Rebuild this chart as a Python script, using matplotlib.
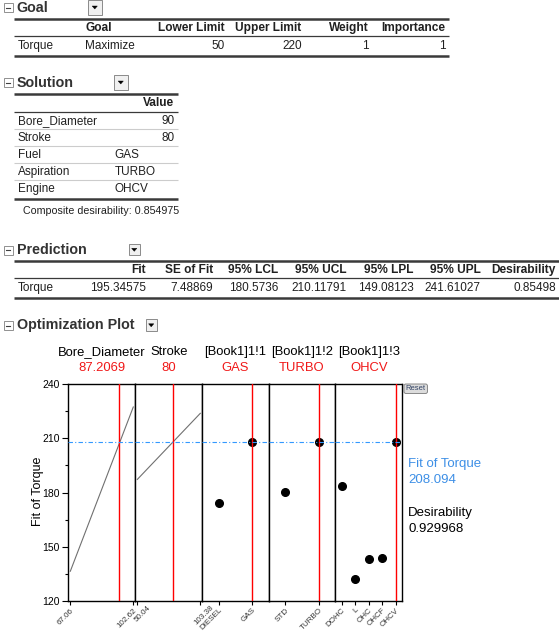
import matplotlib.pyplot as plt
import matplotlib.patches as mpatches
import matplotlib.transforms as mtransforms

plt.rcParams['font.family'] = ['Liberation Sans', 'DejaVu Sans']

W, H = 559, 633

# ---- report data ----
goal_cols = ["Goal", "Lower Limit", "Upper Limit", "Weight", "Importance"]
goal_row = ["Torque", "Maximize", "50", "220", "1", "1"]

sol_names = ["Bore_Diameter", "Stroke", "Fuel", "Aspiration", "Engine"]
sol_values = ["90", "80", "GAS", "TURBO", "OHCV"]
composite = "0.854975"

pred_cols = ["Fit", "SE of Fit", "95% LCL", "95% UCL", "95% LPL", "95% UPL", "Desirability"]
pred_row = ["195.34575", "7.48869", "180.5736", "210.11791", "149.08123", "241.61027", "0.85498"]

# ---- optimization plot data ----
factor_names = ["Bore_Diameter", "Stroke", "[Book1]1!1", "[Book1]1!2", "[Book1]1!3"]
factor_current = ["87.2069", "80", "GAS", "TURBO", "OHCV"]

bore_x = [67.06, 102.62]
bore_fit = [136.6, 227.3]
bore_marker = 94.7
stroke_x = [50.04, 103.38]
stroke_fit = [187.3, 223.8]
stroke_marker = 80

fuel_levels = ["DIESEL", "GAS"]
fuel_fit = [174.4, 208.1]
asp_levels = ["STD", "TURBO"]
asp_fit = [180.1, 208.1]
engine_levels = ["DOHC", "L", "OHC", "OHCF", "OHCV"]
engine_fit = [183.6, 132.2, 143.2, 144.0, 208.1]

fit_torque = 208.094
desirability = "0.929968"

TXT = '#202020'
LINE = '#3a3a3a'


def rect(left, top, width, height):
    return [left / W, 1 - (top + height) / H, width / W, height / H]


def section(ax, y, title, bx, bw, bh):
    ax.add_patch(mpatches.Rectangle((3.5, y - 4.5), 9, 9, fc='white', ec='#909090', lw=0.7))
    ax.plot([5.8, 10.2], [y, y], color='#404040', lw=0.8)
    ax.text(16.7, y, title, fontsize=10.3, fontweight='bold', color='#333333', va='center', ha='left')
    top = y - bh / 2 - 0.5
    ax.add_patch(mpatches.Rectangle((bx, top), bw, bh, fc='#f0f0f0', ec='#8a8a8a', lw=0.7))
    cx, cy = bx + bw / 2, top + bh / 2
    ax.add_patch(mpatches.Polygon([(cx - 2.6, cy - 1.2), (cx + 2.6, cy - 1.2), (cx, cy + 1.8)],
                                  closed=True, fc='black', ec='black', lw=0.3))


def hline(ax, y, x0, x1, lw=1.8, color=LINE):
    ax.plot([x0, x1], [y, y], color=color, lw=lw, solid_capstyle='butt')


fig = plt.figure(figsize=(W / 100, H / 100), dpi=100)
ax0 = fig.add_axes([0, 0, 1, 1])
ax0.set_xlim(0, W)
ax0.set_ylim(H, 0)
ax0.axis('off')

# Goal
section(ax0, 7.7, "Goal", 88, 13.5, 15)
hline(ax0, 19, 14, 449)
goal_right = [225, 301.7, 369, 445.7]
ax0.text(85.3, 27.7, goal_cols[0], fontsize=8.6, fontweight='bold', color=TXT, va='center', ha='left')
for c, xr in zip(goal_cols[1:], goal_right):
    ax0.text(xr, 27.7, c, fontsize=8.6, fontweight='bold', color=TXT, va='center', ha='right')
hline(ax0, 36, 14, 449, lw=0.9)
ax0.text(17.7, 45.7, goal_row[0], fontsize=8.5, color=TXT, va='center', ha='left')
ax0.text(85.3, 45.7, goal_row[1], fontsize=8.5, color=TXT, va='center', ha='left')
for v, xr in zip(goal_row[2:], goal_right):
    ax0.text(xr, 45.7, v, fontsize=8.5, color=TXT, va='center', ha='right')
hline(ax0, 56, 14, 449)

# Solution
section(ax0, 82.7, "Solution", 114, 13.5, 15)
hline(ax0, 94.3, 14, 177.7)
ax0.text(174.3, 102.7, "Value", fontsize=8.6, fontweight='bold', color=TXT, va='center', ha='right')
hline(ax0, 111.7, 14, 177.7, lw=0.9)
row_y = [120.7, 137.6, 154.7, 171.7, 189]
for i, (n, v) in enumerate(zip(sol_names, sol_values)):
    ax0.text(17.7, row_y[i], n, fontsize=8.5, color=TXT, va='center', ha='left')
    if v.replace('.', '').isdigit():
        ax0.text(174.3, row_y[i], v, fontsize=8.5, color=TXT, va='center', ha='right')
    else:
        ax0.text(114.3, row_y[i], v, fontsize=8.5, color=TXT, va='center', ha='left')
    if i < len(sol_names) - 1:
        hline(ax0, row_y[i] + 8.6, 14, 177.7, lw=0.8, color='#cccccc')
hline(ax0, 199.3, 14, 177.7)
ax0.text(23.3, 210.7, "Composite desirability: " + composite, fontsize=7.7, color=TXT,
         va='center', ha='left')

# Prediction
section(ax0, 250, "Prediction", 129, 10.5, 11.5)
hline(ax0, 260.7, 14, 559)
pred_right = [145.7, 213.3, 278.3, 346.7, 414, 480.7, 555.7]
for c, xr in zip(pred_cols, pred_right):
    ax0.text(xr, 270, c, fontsize=8.6, fontweight='bold', color=TXT, va='center', ha='right')
hline(ax0, 278.3, 14, 559, lw=0.9)
ax0.text(17.7, 287.7, "Torque", fontsize=8.5, color=TXT, va='center', ha='left')
for v, xr in zip(pred_row, pred_right):
    ax0.text(xr, 287.7, v, fontsize=8.5, color=TXT, va='center', ha='right')
hline(ax0, 297.7, 14, 559)

# Optimization plot
section(ax0, 325.5, "Optimization Plot", 145.7, 11, 11.7)

edges = [68.3, 135.3, 202.3, 268.7, 335.3, 402.3]
p_top, p_bot = 384, 601.3

panels = [
    ('num', bore_x, bore_fit, bore_marker),
    ('num', stroke_x, stroke_fit, stroke_marker),
    ('cat', fuel_levels, fuel_fit, "GAS"),
    ('cat', asp_levels, asp_fit, "TURBO"),
    ('cat', engine_levels, engine_fit, "OHCV"),
]

for i, (kind, xs, ys, cur) in enumerate(panels):
    ax = fig.add_axes(rect(edges[i], p_top, edges[i + 1] - edges[i], p_bot - p_top))
    ax.set_ylim(120, 240)
    if kind == 'num':
        pad = (xs[1] - xs[0]) * 0.032
        ax.set_xlim(xs[0] - pad, xs[1] + pad)
        ax.plot(xs, ys, color='#707070', lw=0.8)
        ax.set_xticks(xs)
        ax.set_xticklabels([f"{v:.2f}" for v in xs])
        ax.axvline(cur, color='red', lw=1.0, zorder=3)
    else:
        pos = list(range(len(xs)))
        ax.set_xlim(-0.48, len(xs) - 1 + 0.48)
        ax.plot(pos, ys, 'o', color='black', ms=5.5, zorder=2)
        ax.set_xticks(pos)
        ax.set_xticklabels(xs)
        ax.axvline(xs.index(cur), color='red', lw=1.0, zorder=3)
    ax.axhline(fit_torque, color='#3399ff', lw=0.8, ls=(0, (4, 2, 1, 2)), zorder=4)
    for sp in ax.spines.values():
        sp.set_linewidth(1.0)
        sp.set_color('black')
    ax.tick_params(axis='x', direction='out', length=3, width=0.8, pad=1.0,
                   labelsize=5.8, labelcolor='#333333')
    # the Stroke labels sit shifted up-right in the original
    shift = mtransforms.ScaledTranslation(0.10, 0.03, fig.dpi_scale_trans) if i == 1 else None
    for lab in ax.get_xticklabels():
        lab.set_rotation(45)
        lab.set_ha('right')
        lab.set_va('top')
        lab.set_rotation_mode('anchor')
        if shift is not None:
            lab.set_transform(lab.get_transform() + shift)
    if i == 0:
        ax.set_yticks([120, 150, 180, 210, 240])
        ax.set_yticks([135, 165, 195, 225], minor=True)
        ax.tick_params(axis='y', which='major', direction='out', length=4, width=0.8,
                       labelsize=7.5, pad=2)
        ax.tick_params(axis='y', which='minor', direction='out', length=2.5, width=0.8)
    else:
        ax.tick_params(axis='y', left=False, labelleft=False)
    cx = (edges[i] + edges[i + 1]) / 2
    ax0.text(cx, 351.7, factor_names[i], fontsize=9.4, color='black', ha='center', va='center')
    ax0.text(cx, 368.3, factor_current[i], fontsize=9.4, color='#f01818', ha='center', va='center')

ax0.text(37.7, 491.7, "Fit of Torque", fontsize=9, rotation=90, ha='center', va='center',
         color='black')
ax0.text(408.3, 464, "Fit of Torque", fontsize=9.5, color='#3d8fe6', ha='left', va='center')
ax0.text(408.3, 480.3, f"{fit_torque:.3f}", fontsize=9.5, color='#3d8fe6', ha='left', va='center')
ax0.text(408.3, 513.3, "Desirability", fontsize=9.5, color='black', ha='left', va='center')
ax0.text(408.3, 529.3, desirability, fontsize=9.5, color='black', ha='left', va='center')

ax0.add_patch(mpatches.FancyBboxPatch((404, 384), 23.5, 9.5, boxstyle='round,pad=0,rounding_size=2',
                                      fc='#dcdcdc', ec='#888888', lw=0.7))
ax0.text(415.7, 389, "Reset", fontsize=5.5, color='#334466', ha='center', va='center')

fig.savefig("out.png", dpi=100)
